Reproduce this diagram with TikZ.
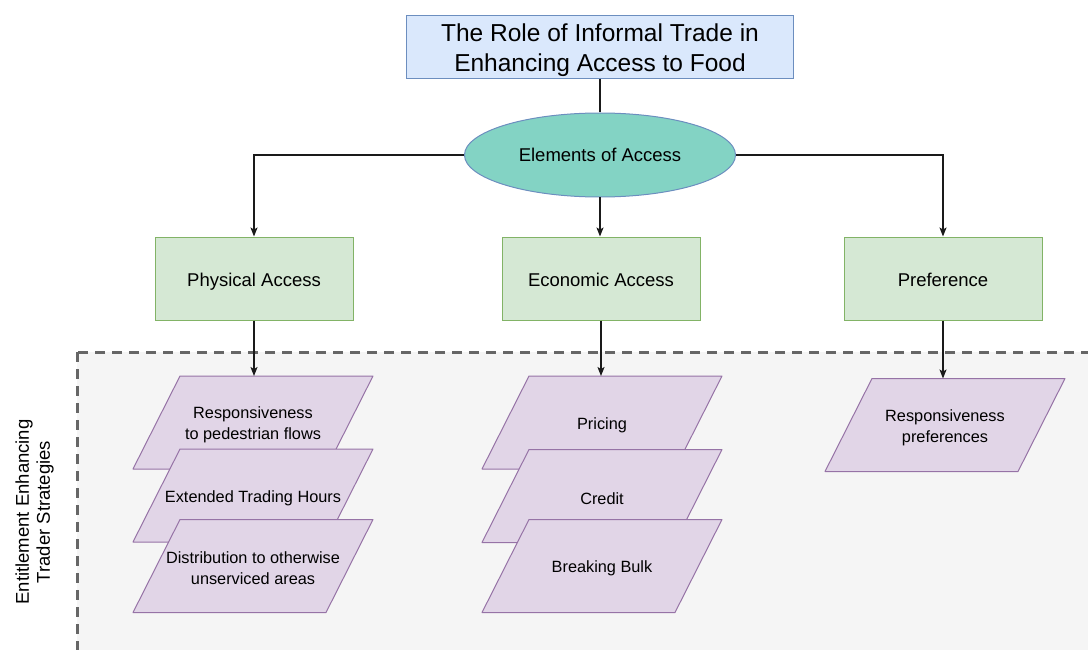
\documentclass[tikz,border=0pt]{standalone}
\usepackage{fontspec}
\setmainfont{Liberation Sans}
\usetikzlibrary{arrows.meta,shapes.geometric}

\definecolor{titlefill}{HTML}{DAE8FC}
\definecolor{titleline}{HTML}{6C8EBF}
\definecolor{hubfill}{HTML}{83D3C4}
\definecolor{greenfill}{HTML}{D5E8D4}
\definecolor{greenline}{HTML}{82B366}
\definecolor{purplefill}{HTML}{E1D5E7}
\definecolor{purpleline}{HTML}{9673A6}
\definecolor{zonefill}{HTML}{F5F5F5}
\definecolor{zoneline}{HTML}{666666}
\definecolor{wire}{HTML}{1A1A1A}

\tikzset{
  titlebox/.style={draw=titleline, fill=titlefill, line width=1pt,
    minimum width=387pt, minimum height=63pt, inner sep=0pt, align=center,
    font=\fontsize{24.5}{30}\selectfont},
  hub/.style={ellipse, draw=titleline, fill=hubfill, line width=1pt,
    minimum width=271pt, minimum height=84pt, inner sep=0pt,
    font=\fontsize{18.5}{22}\selectfont},
  accessbox/.style={draw=greenline, fill=greenfill, line width=1pt,
    minimum width=198pt, minimum height=83pt, inner sep=0pt,
    text height=16.4pt, text depth=0pt,
    font=\fontsize{18.5}{22}\selectfont},
  slabshape/.style={draw=purpleline, fill=purplefill, line width=1pt, line join=round},
  slabtext/.style={inner sep=0pt, align=center, font=\fontsize{16.3}{21}\selectfont},
  zone/.style={draw=zoneline, fill=zonefill, line width=3pt,
    dash pattern=on 10pt off 7pt},
  link/.style={draw=wire, line width=1.2pt},
  arrowlink/.style={link, -{Stealth[length=9pt,width=7pt,inset=2pt]}},
}

% parallelogram strategy card: name, centre x, centre y, text
\newcommand\strategycard[4]{%
  \path[slabshape] (#2-73,#3-46.5) -- (#2+120,#3-46.5) -- (#2+73,#3+46.5)
    -- (#2-120,#3+46.5) -- cycle;
  \coordinate (#1-top) at (#2,#3-46.5);
  \node[slabtext] (#1) at (#2,#3+2.5) {#4};}

\begin{document}
\begin{tikzpicture}[x=1pt, y=-1pt]
  \useasboundingbox (0,0) rectangle (1088,650);
  \clip (0,0) rectangle (1088,650);

  % strategies zone
  \path[zone] (77,352) rectangle (1120,700);
  \node[rotate=90, align=center, font=\fontsize{18.5}{21}\selectfont] (zonelabel)
    at (34.5,512) {Entitlement Enhancing\\Trader Strategies};

  % heading and hub
  \node[titlebox] (title) at (600,47.5)
    {\rule{0pt}{24pt}The Role of Informal Trade in\\Enhancing Access to Food};
  \node[hub] (hub) at (600,155) {Elements of Access};

  % elements of access
  \node[accessbox] (phys) at (254,278.5) {Physical Access};
  \node[accessbox] (econ) at (601,278.5) {Economic Access};
  \node[accessbox] (pref) at (943,278.5) {Preference};

  % strategy cards
  \strategycard{pa}{253}{422.5}{Responsiveness\\to pedestrian flows}
  \strategycard{pb}{253}{495.5}{Extended Trading Hours}
  \strategycard{pc}{253}{566}{Distribution to otherwise\\unserviced areas}

  \strategycard{ea}{602}{422.5}{Pricing}
  \strategycard{eb}{602}{496}{Credit}
  \strategycard{ec}{602}{566}{Breaking Bulk}

  \strategycard{ra}{945}{425}{Responsiveness\\preferences}

  % connectors
  \draw[link] (title.south) -- (hub.north);
  \draw[arrowlink] (hub.west) -| (phys.north);
  \draw[arrowlink] (hub.south) -- (hub.south |- econ.north);
  \draw[arrowlink] (hub.east) -| (pref.north);

  \draw[arrowlink] (phys.south) -- (phys.south |- pa-top);
  \draw[arrowlink] (econ.south) -- (econ.south |- ea-top);
  \draw[arrowlink] (pref.south) -- (pref.south |- ra-top);
\end{tikzpicture}
\end{document}
